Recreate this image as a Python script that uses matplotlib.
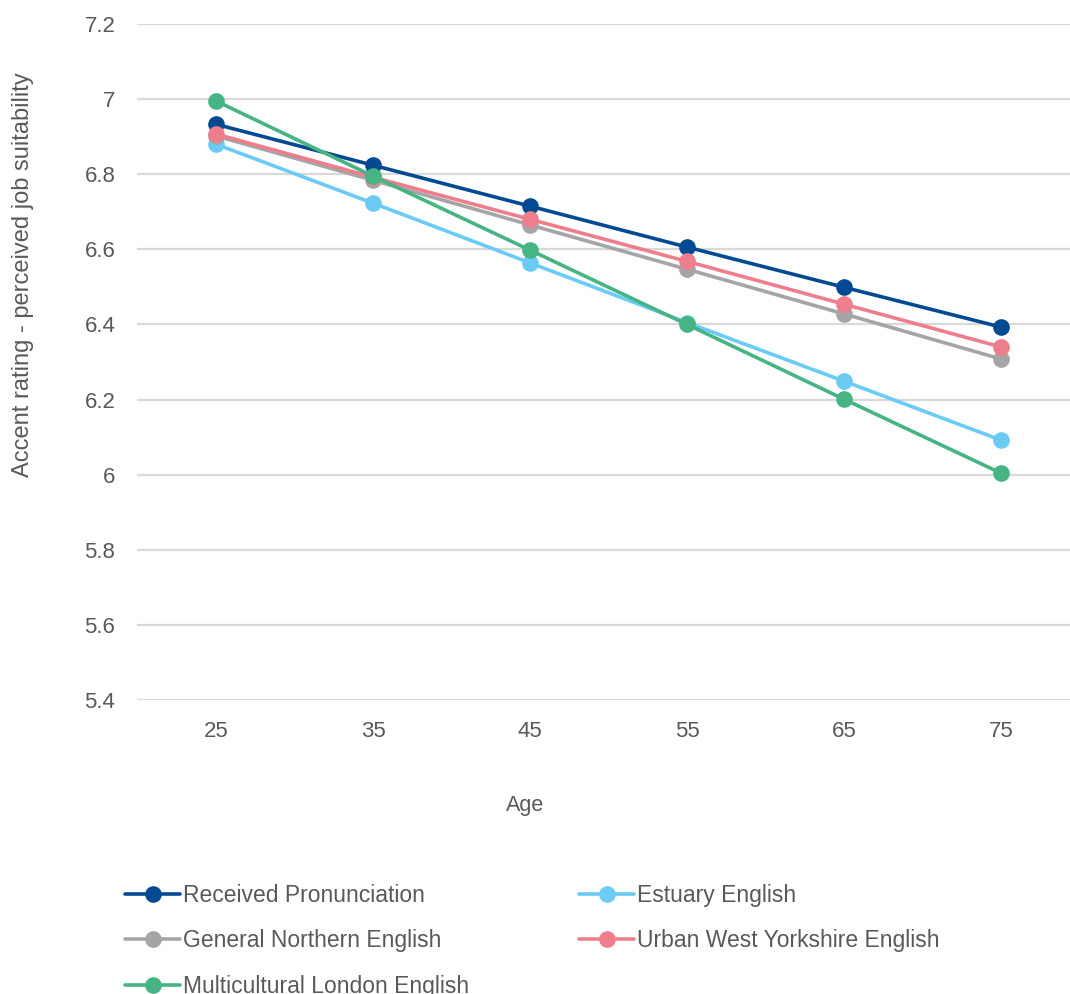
import matplotlib
matplotlib.use("Agg")
import matplotlib.pyplot as plt

ages = ["25", "35", "45", "55", "65", "75"]
received_pronunciation = [6.933, 6.824, 6.715, 6.606, 6.499, 6.393]
estuary_english = [6.880, 6.723, 6.564, 6.405, 6.249, 6.092]
general_northern = [6.902, 6.784, 6.665, 6.547, 6.428, 6.308]
urban_west_yorkshire = [6.907, 6.792, 6.680, 6.568, 6.454, 6.340]
multicultural_london = [6.995, 6.795, 6.598, 6.400, 6.201, 6.004]

series_names = ["Received Pronunciation", "Estuary English", "General Northern English",
                "Urban West Yorkshire English", "Multicultural London English"]
series_values = [received_pronunciation, estuary_english, general_northern,
                 urban_west_yorkshire, multicultural_london]
colors = ["#044A92", "#6BCBF5", "#A5A5A5", "#EE7E8C", "#47B484"]

yticks = [5.4, 5.6, 5.8, 6.0, 6.2, 6.4, 6.6, 6.8, 7.0, 7.2]
ytick_labels = ["5.4", "5.6", "5.8", "6", "6.2", "6.4", "6.6", "6.8", "7", "7.2"]

plt.rcParams['font.family'] = ['Liberation Sans', 'DejaVu Sans']
W, H = 1070, 994
fig = plt.figure(figsize=(W / 100, H / 100), dpi=100)
left_px, right_px, top_px, bottom_px = 137.5, 1079.5, 24, 700
ax = fig.add_axes([left_px / W, 1 - bottom_px / H, (right_px - left_px) / W, (bottom_px - top_px) / H])

x = list(range(len(ages)))
handles = []
for name, vals, c in zip(series_names, series_values, colors):
    h, = ax.plot(x, vals, color=c, lw=2.6, marker='o', markersize=12,
                 markeredgewidth=0, label=name, solid_capstyle='round', clip_on=False)
    handles.append(h)

ax.set_xlim(-0.5, len(ages) - 0.5)
ax.set_ylim(5.4, 7.2)
ax.set_xticks(x)
ax.set_xticklabels(ages)
ax.set_yticks(yticks)
ax.set_yticklabels(ytick_labels)
ax.tick_params(axis='both', length=0, labelsize=16, colors='#595959')
ax.tick_params(axis='x', pad=15)
ax.tick_params(axis='y', pad=16)
ax.grid(axis='y', color='#D9D9D9', lw=1.6)
ax.set_axisbelow(True)
for s in ax.spines.values():
    s.set_visible(False)

fig.text(23 / W, 1 - 275 / H, "Accent rating - perceived job suitability", rotation=90,
         ha='center', va='center', fontsize=17, color='#595959')
fig.text(525 / W, 1 - 806 / H, "Age", ha='center', va='center', fontsize=15.5, color='#595959')

order = [0, 2, 4, 1, 3]
leg = fig.legend([handles[i] for i in order], [series_names[i] for i in order],
                 ncol=2, loc='upper left', bbox_to_anchor=(125 / W, 1 - 884 / H),
                 frameon=False, fontsize=16.5, handlelength=2.4, handletextpad=0.13,
                 columnspacing=4.8, labelspacing=0.98, borderaxespad=0, borderpad=0)
for t in leg.get_texts():
    t.set_color('#595959')

fig.savefig("out.png", dpi=100)
